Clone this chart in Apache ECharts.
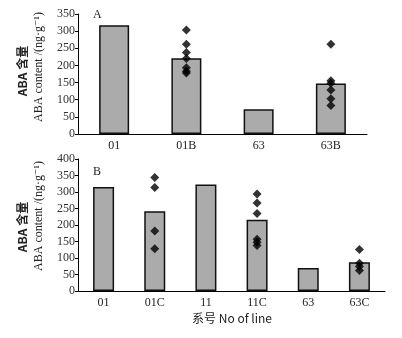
<!DOCTYPE html>
<html>
<head>
<meta charset="utf-8">
<script src="https://cdn.jsdelivr.net/npm/echarts@6/dist/echarts.min.js"></script>
<style>
  html, body { margin: 0; padding: 0; background: #fff; }
  #main { width: 402px; height: 338px; }
</style>
</head>
<body>
<div id="main"></div>
<script>
// 面板 A
var catsA = ['01', '01B', '63', '63B'];
var barsA = [317, 221, 72, 147];
var ptsA01B = [303, 262, 238, 220, 193, 183, 178];
var ptsA63B = [262, 155, 148, 128, 103, 83];

// 面板 B
var catsB = ['01', '01C', '11', '11C', '63', '63C'];
var barsB = [315, 242, 323, 216, 70, 87];
var ptsB01C = [344, 314, 182, 128];
var ptsB11C = [294, 267, 235, 157, 148, 138];
var ptsB63C = [126, 84, 74, 62];

var serif = '"Liberation Serif", "DejaVu Serif", serif';
var cjk = '"Noto Sans CJK SC", sans-serif';

// 把散点挂到对应类别上
function toPoints(cats, name, vals) {
    var idx = cats.indexOf(name);
    return vals.map(function (v) { return [idx, v]; });
}

function xAxisOf(cats, gi) {
    return {
        type: 'category',
        gridIndex: gi,
        data: cats,
        axisLine: { lineStyle: { color: '#000', width: 1 } },
        axisTick: { inside: true, length: 3, lineStyle: { color: '#000' } },
        axisLabel: { color: '#222', fontFamily: serif, fontSize: 12, margin: 6 }
    };
}

function yAxisOf(max, gi) {
    return {
        type: 'value',
        gridIndex: gi,
        min: 0,
        max: max,
        interval: 50,
        splitLine: { show: false },
        axisLine: { show: true, lineStyle: { color: '#000', width: 1 } },
        axisTick: { show: true, length: 3, lineStyle: { color: '#000' } },
        axisLabel: { color: '#333', fontFamily: serif, fontSize: 12, margin: 3 }
    };
}

var barStyle = { color: '#ababab', borderColor: '#111', borderWidth: 1.5 };
var dot = { type: 'scatter', symbol: 'diamond', symbolSize: 9, itemStyle: { color: '#000' }, z: 5 };

function scat(xi, data) {
    return Object.assign({}, dot, { xAxisIndex: xi, yAxisIndex: xi, data: data });
}

function yTitle(x, y, text, font, size, weight) {
    return {
        type: 'text', x: x, y: y, rotation: Math.PI / 2,
        style: {
            text: text, fontFamily: font, fontSize: size, fontWeight: weight || 'normal',
            fill: '#222', textAlign: 'center', textVerticalAlign: 'middle'
        }
    };
}

var chart = echarts.init(document.getElementById('main'), null, { renderer: 'canvas' });
chart.setOption({
    backgroundColor: '#fff',
    animation: false,
    grid: [
        { left: 78, top: 14, width: 289, height: 120 },
        { left: 78, top: 159, width: 307, height: 132 }
    ],
    xAxis: [xAxisOf(catsA, 0), xAxisOf(catsB, 1)],
    yAxis: [yAxisOf(350, 0), yAxisOf(400, 1)],
    series: [
        { type: 'bar', xAxisIndex: 0, yAxisIndex: 0, data: barsA, barWidth: 30, itemStyle: barStyle },
        scat(0, toPoints(catsA, '01B', ptsA01B)),
        scat(0, toPoints(catsA, '63B', ptsA63B)),
        { type: 'bar', xAxisIndex: 1, yAxisIndex: 1, data: barsB, barWidth: 21, itemStyle: barStyle },
        scat(1, toPoints(catsB, '01C', ptsB01C)),
        scat(1, toPoints(catsB, '11C', ptsB11C)),
        scat(1, toPoints(catsB, '63C', ptsB63C))
    ],
    graphic: [
        { type: 'text', left: 93, top: 9, style: { text: 'A', fontFamily: serif, fontSize: 12, fill: '#222' } },
        { type: 'text', left: 93, top: 166, style: { text: 'B', fontFamily: serif, fontSize: 12, fill: '#222' } },
        yTitle(22, 71, 'ABA 含量', cjk, 12, 'bold'),
        yTitle(39, 67, 'ABA content /(ng·g⁻¹)', serif, 12),
        yTitle(22, 227, 'ABA 含量', cjk, 12, 'bold'),
        yTitle(39, 216, 'ABA content /(ng·g⁻¹)', serif, 12),
        {
            type: 'text', x: 232, y: 318,
            style: {
                text: '系号 No of line', fontFamily: cjk, fontSize: 12, fill: '#222',
                textAlign: 'center', textVerticalAlign: 'middle'
            }
        }
    ]
});
</script>
</body>
</html>
